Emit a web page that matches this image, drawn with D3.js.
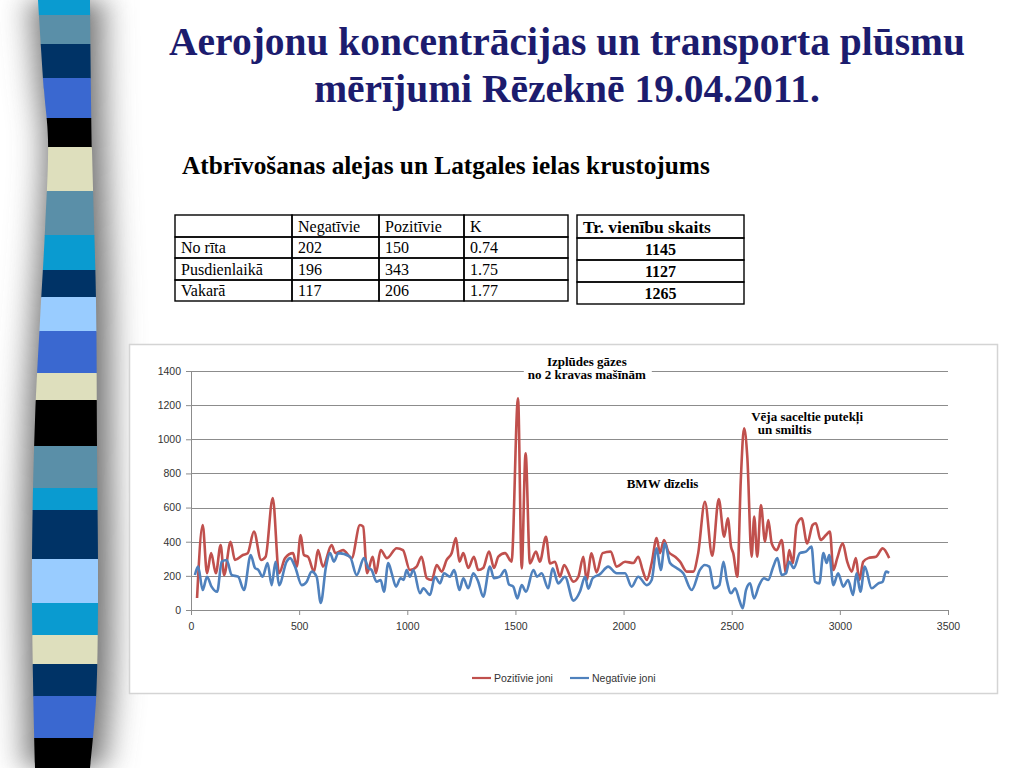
<!DOCTYPE html>
<html>
<head>
<meta charset="utf-8">
<script src="https://cdn.jsdelivr.net/npm/d3@7"></script>
<style>
  body { margin: 0; background: #fff; }
  svg { display: block; }
</style>
</head>
<body>
<div id="container"></div>
<script>
// --- data ---
const titleLines = ["Aerojonu koncentrācijas un transporta plūsmu", "mērījumi Rēzeknē 19.04.2011."];
const subtitle = "Atbrīvošanas alejas un Latgales ielas krustojums";

const tableHead = ["", "Negatīvie", "Pozitīvie", "K"];
const tableRows = [
  ["No rīta", "202", "150", "0.74"],
  ["Pusdienlaikā", "196", "343", "1.75"],
  ["Vakarā", "117", "206", "1.77"]
];
const countHead = "Tr. vienību skaits";
const counts = ["1145", "1127", "1265"];

const seriesNames = ["Pozitīvie joni", "Negatīvie joni"];

const posX = [28, 54, 74, 93, 115, 137, 153, 183, 203, 240, 262, 291, 324, 345, 378, 407, 435, 472, 489, 507,
  522, 541, 569, 587, 610, 650, 668, 703, 743, 781, 796, 814, 840, 855, 877, 906, 951, 980, 1012, 1043,
  1066, 1090, 1113, 1136, 1159, 1182, 1205, 1225, 1241, 1259, 1282, 1308, 1328, 1351, 1378, 1401, 1421, 1452, 1482, 1512,
  1529, 1547, 1567, 1595, 1613, 1641, 1660, 1683, 1706, 1725, 1768, 1791, 1814, 1829, 1852, 1875, 1903, 1940, 1968, 2007,
  2045, 2068, 2088, 2107, 2130, 2153, 2168, 2187, 2207, 2238, 2261, 2292, 2322, 2345, 2376, 2410, 2440, 2465, 2482, 2497,
  2507, 2526, 2542, 2557, 2572, 2592, 2604, 2618, 2635, 2654, 2669, 2685, 2708, 2731, 2751, 2766, 2782, 2800, 2823, 2849,
  2874, 2889, 2911, 2936, 2954, 2970, 2988, 3013, 3034, 3055, 3074, 3090, 3108, 3131, 3167, 3198, 3228];
const posY = [70, 498, 215, 333, 215, 380, 205, 400, 293, 322, 333, 459, 293, 312, 656, 215, 304, 333, 254, 439,
  322, 312, 225, 351, 254, 380, 333, 351, 304, 498, 488, 215, 312, 215, 351, 304, 362, 351, 234, 254,
  312, 186, 176, 264, 225, 293, 333, 421, 283, 333, 246, 312, 234, 246, 342, 246, 312, 333, 283, 1240,
  244, 918, 273, 342, 283, 429, 273, 283, 195, 264, 166, 195, 312, 176, 332, 220, 333, 342, 254, 283,
  275, 312, 234, 176, 275, 421, 333, 410, 342, 312, 283, 225, 225, 333, 634, 318, 650, 429, 537, 371,
  333, 195, 761, 1064, 898, 312, 548, 312, 615, 400, 527, 390, 351, 410, 215, 351, 275, 498, 537, 390,
  498, 508, 410, 439, 459, 234, 304, 390, 283, 225, 304, 176, 283, 304, 312, 361, 304];

const negX = [18, 33, 54, 74, 95, 121, 142, 165, 188, 218, 245, 276, 296, 312, 331, 354, 373, 391, 407, 442,
  458, 481, 512, 535, 558, 581, 600, 624, 643, 661, 681, 735, 766, 800, 820, 835, 858, 877, 892, 912,
  928, 948, 969, 983, 997, 1012, 1028, 1059, 1074, 1105, 1128, 1151, 1170, 1197, 1217, 1241, 1259, 1282, 1305, 1328,
  1351, 1382, 1401, 1428, 1452, 1470, 1490, 1509, 1529, 1549, 1583, 1600, 1621, 1652, 1672, 1698, 1729, 1768, 1799, 1822,
  1837, 1857, 1891, 1929, 1968, 2007, 2037, 2068, 2107, 2130, 2153, 2172, 2191, 2215, 2245, 2276, 2315, 2353, 2375, 2396,
  2418, 2443, 2462, 2477, 2497, 2516, 2535, 2551, 2566, 2585, 2603, 2627, 2649, 2669, 2692, 2711, 2731, 2751, 2766, 2787,
  2815, 2843, 2869, 2885, 2905, 2924, 2939, 2951, 2970, 2992, 3016, 3038, 3061, 3077, 3095, 3115, 3147, 3178, 3198, 3213, 3228];
const negY = [205, 254, 117, 195, 137, 107, 283, 293, 205, 195, 117, 322, 246, 234, 195, 275, 146, 283, 146, 283,
  304, 254, 146, 166, 225, 195, 41, 254, 333, 283, 333, 312, 205, 304, 246, 234, 166, 176, 107, 275,
  215, 137, 186, 176, 234, 195, 234, 98, 127, 88, 195, 156, 215, 195, 234, 117, 186, 127, 215, 166,
  78, 254, 186, 195, 234, 150, 137, 68, 146, 107, 234, 195, 215, 127, 244, 156, 195, 55, 110, 195,
  125, 186, 210, 254, 215, 215, 137, 195, 146, 176, 361, 234, 390, 275, 246, 215, 117, 235, 264, 254,
  127, 146, 283, 176, 98, 127, 59, 10, 117, 156, 68, 146, 186, 176, 254, 304, 205, 215, 283, 246,
  333, 342, 371, 166, 156, 333, 275, 322, 146, 215, 137, 176, 88, 215, 107, 254, 127, 156, 166, 225, 218];

const annotations = [
  { lines: ["Izplūdes gāzes", "no 2 kravas mašīnām"], x: 1830, y: 1430, box: true },
  { lines: ["BMW dīzelis"], x: 2180, y: 715, box: false },
  { lines: ["Vēja saceltie putekļi", "  un smiltis"], x: 2590, y: 1108, box: false, anchor: "start" }
];

// stripe band on the left: [top, bottom, colour]
const stripes = [
  [0, 15, "#0a9bd0"], [15, 44, "#5a8fa8"], [44, 78, "#003366"], [78, 118, "#3a68d0"], [118, 147, "#000000"],
  [147, 191, "#dedfbd"], [191, 235, "#5a8fa8"], [235, 270, "#0a9bd0"], [270, 297, "#003366"], [297, 331, "#99ccff"],
  [331, 373, "#3a68d0"], [373, 400, "#dedfbd"], [400, 446, "#000000"], [446, 488, "#5a8fa8"], [488, 510, "#0a9bd0"],
  [510, 559, "#003366"], [559, 603, "#99ccff"], [603, 635, "#0a9bd0"], [635, 664, "#dedfbd"], [664, 696, "#003366"],
  [696, 738, "#3a68d0"], [738, 768, "#000000"]
];

const W = 1024, H = 768;
const svg = d3.select("#container").append("svg")
  .attr("width", W).attr("height", H)
  .attr("viewBox", [0, 0, W, H]);

const defs = svg.append("defs");
defs.append("filter").attr("id", "blur")
  .attr("x", "-100%").attr("width", "300%")
  .append("feGaussianBlur").attr("stdDeviation", 12);

// band outline
const leftEdge = [[38, 0], [44, 90], [48, 140], [45, 230], [40, 320], [35, 420], [32, 560], [33, 680], [35, 768]];
const rightEdge = [[90, 768], [96, 700], [98, 600], [97, 450], [96, 300], [92, 150], [90, 0]];
const bandLine = d3.line().curve(d3.curveCatmullRom);
const bandPath = bandLine(leftEdge) + "L" + bandLine(rightEdge).slice(1) + "Z";

defs.append("clipPath").attr("id", "band").append("path").attr("d", bandPath);

svg.append("path")
  .attr("d", bandPath)
  .attr("fill", "#6e6e6e")
  .attr("transform", "translate(-20,0) scale(1.35,1)")
  .attr("filter", "url(#blur)");

svg.append("g").attr("clip-path", "url(#band)")
  .selectAll("rect").data(stripes).join("rect")
  .attr("x", 0).attr("width", 130)
  .attr("y", d => d[0]).attr("height", d => d[1] - d[0] + 0.5)
  .attr("fill", d => d[2]);

// title
svg.append("g")
  .attr("font-family", "Liberation Serif, Times New Roman, serif")
  .attr("font-weight", "bold")
  .attr("font-size", 39.5)
  .attr("fill", "#1c1c6e")
  .attr("text-anchor", "middle")
  .selectAll("text").data(titleLines).join("text")
  .attr("x", 567)
  .attr("y", (d, i) => 55 + i * 47)
  .text(d => d);

svg.append("text")
  .attr("x", 182).attr("y", 174)
  .attr("font-family", "Liberation Serif, Times New Roman, serif")
  .attr("font-weight", "bold")
  .attr("font-size", 25.3)
  .text(subtitle);

// tables
const colX = [175, 292, 379, 464, 568];
const rowY = [215, 237, 258, 280, 301];
const t1 = svg.append("g")
  .attr("font-family", "Liberation Serif, Times New Roman, serif")
  .attr("font-size", 16);
[tableHead, ...tableRows].forEach((row, r) => {
  row.forEach((cell, c) => {
    t1.append("rect")
      .attr("x", colX[c]).attr("y", rowY[r])
      .attr("width", colX[c + 1] - colX[c]).attr("height", rowY[r + 1] - rowY[r])
      .attr("fill", "none").attr("stroke", "#000").attr("stroke-width", 1.4);
    t1.append("text")
      .attr("x", colX[c] + 6).attr("y", rowY[r + 1] - 5)
      .text(cell);
  });
});

const cX0 = 577, cX1 = 744;
const cRowY = [215, 238, 260, 282, 304];
const t2 = svg.append("g")
  .attr("font-family", "Liberation Serif, Times New Roman, serif")
  .attr("font-size", 16)
  .attr("font-weight", "bold")
  .attr("text-anchor", "middle");
[countHead, ...counts].forEach((cell, r) => {
  t2.append("rect")
    .attr("x", cX0).attr("y", cRowY[r])
    .attr("width", cX1 - cX0).attr("height", cRowY[r + 1] - cRowY[r])
    .attr("fill", "none").attr("stroke", "#000").attr("stroke-width", 1.4);
  t2.append("text")
    .attr("x", r === 0 ? cX0 + 6 : (cX0 + cX1) / 2)
    .attr("text-anchor", r === 0 ? "start" : "middle")
    .attr("font-size", r === 0 ? 17.5 : 16)
    .attr("y", cRowY[r + 1] - 5)
    .text(cell);
});

// chart frame
svg.append("rect")
  .attr("x", 129.5).attr("y", 344.5)
  .attr("width", 868).attr("height", 349)
  .attr("fill", "#fff")
  .attr("stroke", "#d4d4d4").attr("stroke-width", 1.5);

const x = d3.scaleLinear().domain([0, 3500]).range([191, 948]);
const y = d3.scaleLinear().domain([0, 1400]).range([610, 371]);

const plot = svg.append("g");

// gridlines
plot.append("g")
  .selectAll("line").data(y.ticks(7).filter(d => d > 0)).join("line")
  .attr("x1", x(0)).attr("x2", x(3500))
  .attr("y1", d => Math.round(y(d)) + 0.5).attr("y2", d => Math.round(y(d)) + 0.5)
  .attr("stroke", "#8c8c8c").attr("stroke-width", 1);

const yAxis = plot.append("g")
  .attr("transform", `translate(${x(0)},0)`)
  .call(d3.axisLeft(y).ticks(7).tickFormat(d3.format("d")).tickSize(5).tickPadding(5));
const xAxis = plot.append("g")
  .attr("transform", `translate(0,${y(0)})`)
  .call(d3.axisBottom(x).ticks(7).tickFormat(d3.format("d")).tickSize(5).tickPadding(8));

[yAxis, xAxis].forEach(a => {
  a.selectAll("path, line").attr("stroke", "#8c8c8c");
  a.selectAll("text")
    .attr("font-family", "Liberation Sans, Arial, sans-serif")
    .attr("font-size", 10.5)
    .attr("fill", "#333");
});

// series
const line = d3.line()
  .x(d => x(d[0]))
  .y(d => y(d[1]))
  .curve(d3.curveMonotoneX);

const pos = posX.map((v, i) => [v, posY[i]]);
const neg = negX.map((v, i) => [v, negY[i]]);

plot.append("path").datum(pos)
  .attr("d", line)
  .attr("fill", "none").attr("stroke", "#c0504d").attr("stroke-width", 2.6)
  .attr("stroke-linejoin", "round");
plot.append("path").datum(neg)
  .attr("d", line)
  .attr("fill", "none").attr("stroke", "#4f81bd").attr("stroke-width", 2.6)
  .attr("stroke-linejoin", "round");

// annotations
annotations.forEach(a => {
  const g = svg.append("g")
    .attr("font-family", "Liberation Serif, Times New Roman, serif")
    .attr("font-weight", "bold")
    .attr("font-size", 13)
    .attr("text-anchor", a.anchor || "middle");
  const tx = x(a.x), ty = y(a.y);
  if (a.box) {
    g.append("rect")
      .attr("x", tx - 63).attr("y", ty - 14)
      .attr("width", 128).attr("height", 30)
      .attr("fill", "#fff");
  }
  g.selectAll("text").data(a.lines).join("text")
    .attr("x", tx).attr("y", (d, i) => ty + i * 13)
    .attr("xml:space", "preserve")
    .text(d => d);
});

// legend
const legend = svg.append("g")
  .attr("font-family", "Liberation Sans, Arial, sans-serif")
  .attr("font-size", 10.5)
  .attr("fill", "#333");
const legendX = [472, 570];
const legendColors = ["#c0504d", "#4f81bd"];
seriesNames.forEach((name, i) => {
  legend.append("line")
    .attr("x1", legendX[i]).attr("x2", legendX[i] + 19)
    .attr("y1", 678).attr("y2", 678)
    .attr("stroke", legendColors[i]).attr("stroke-width", 2.2);
  legend.append("text")
    .attr("x", legendX[i] + 22).attr("y", 681.5)
    .text(name);
});
</script>
</body>
</html>
